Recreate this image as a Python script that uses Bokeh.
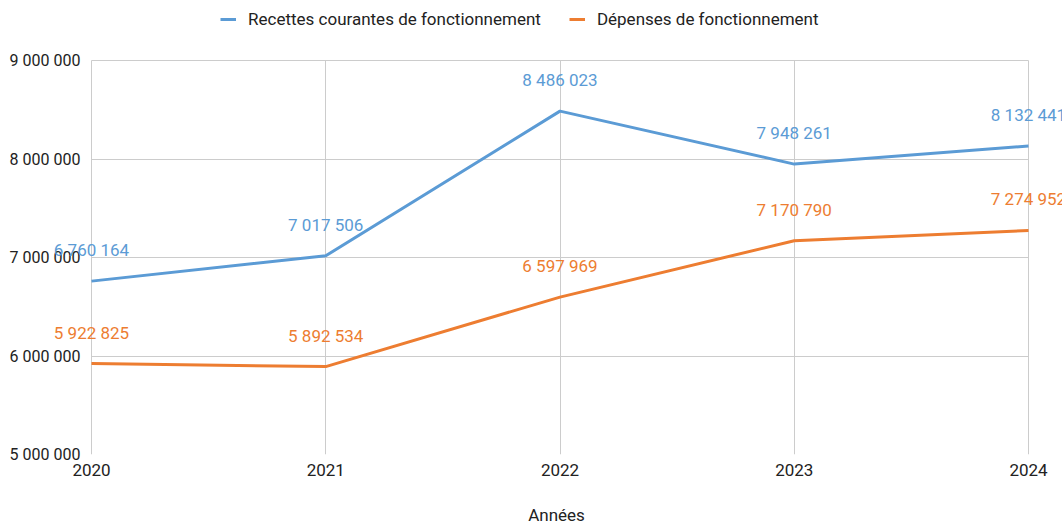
from bokeh.plotting import figure
from bokeh.models import ColumnDataSource, LabelSet, FixedTicker, Legend, LegendItem, Range1d
from bokeh.core.properties import value
from bokeh.embed import file_html
from bokeh.resources import INLINE

years = [2020, 2021, 2022, 2023, 2024]
recettes = [6760164, 7017506, 8486023, 7948261, 8132441]
depenses = [5922825, 5892534, 6597969, 7170790, 7274952]
series_names = ["Recettes courantes de fonctionnement", "Dépenses de fonctionnement"]
colors = ["#5b9bd5", "#ed7d31"]
y_ticks = [5000000, 6000000, 7000000, 8000000, 9000000]

def fmt(v):
    return f"{v:,}".replace(",", " ")

FONT = "Roboto"

# frame extends beyond the 2020-2024 / 5M-9M box so that data labels and legend are not clipped
px_per_year = (1028 - 91) / 4
px_per_unit_y = (454 - 60) / 4000000
FRAME_LEFT = 50
x0 = years[0] - (91 - FRAME_LEFT) / px_per_year
x1 = years[-1] + (1062 - 1028) / px_per_year
y0 = y_ticks[0]
y1 = y_ticks[-1] + 60 / px_per_unit_y

p = figure(width=1062, height=527, output_backend="svg", toolbar_location=None,
           x_range=Range1d(x0, x1), y_range=Range1d(y0, y1))
p.min_border_left = FRAME_LEFT
p.min_border_right = 0
p.min_border_top = 0
p.min_border_bottom = 73
p.outline_line_color = None

renderers = []
for vals, col in zip([recettes, depenses], colors):
    src = ColumnDataSource(dict(x=years, y=vals, lab=[fmt(v) for v in vals]))
    r = p.line("x", "y", source=src, line_color=col, line_width=3)
    renderers.append(r)
    p.add_layout(LabelSet(x="x", y="y", text="lab", source=src, text_color=col,
                          text_font=value(FONT), text_font_size="17px", text_align="center",
                          text_baseline="middle", y_offset=31))

legend = Legend(items=[LegendItem(label=n, renderers=[r]) for n, r in zip(series_names, renderers)],
                orientation="horizontal", location=(170, 425), label_text_font=FONT,
                label_text_font_size="17px", label_text_color="#222222",
                border_line_color=None, background_fill_alpha=0, glyph_width=16,
                glyph_height=10, spacing=28, padding=4, margin=0, label_standoff=12)
p.add_layout(legend, "center")

p.xaxis.ticker = FixedTicker(ticks=years)
p.yaxis.ticker = FixedTicker(ticks=y_ticks)
p.xaxis.bounds = (years[0], years[-1])
p.yaxis.bounds = (y_ticks[0], y_ticks[-1])
p.yaxis.major_label_overrides = {t: fmt(t) for t in y_ticks}
p.xaxis.major_label_overrides = {y: str(y) for y in years}
for ax in (p.xaxis, p.yaxis):
    ax.axis_line_color = None
    ax.major_tick_line_color = None
    ax.minor_tick_line_color = None
    ax.major_label_text_font = FONT
    ax.major_label_text_color = "#222222"
p.xaxis.major_label_text_font_size = "17px"
p.yaxis.major_label_text_font_size = "16px"
p.yaxis.major_label_standoff = FRAME_LEFT - 86
p.xaxis.major_label_standoff = 3
p.xaxis.axis_label = "Années"
p.xaxis.axis_label_text_font = FONT
p.xaxis.axis_label_text_font_size = "17px"
p.xaxis.axis_label_text_font_style = "normal"
p.xaxis.axis_label_text_color = "#222222"
p.xaxis.axis_label_standoff = 26

p.xgrid.ticker = FixedTicker(ticks=years)
p.ygrid.ticker = FixedTicker(ticks=y_ticks)
p.xgrid.cross_bounds = (y_ticks[0], y_ticks[-1])
p.ygrid.cross_bounds = (years[0], years[-1])
p.xgrid.grid_line_color = "#cccccc"
p.ygrid.grid_line_color = "#cccccc"
p.xgrid.grid_line_width = 1
p.ygrid.grid_line_width = 1

open("out.html", "w").write(file_html(p, INLINE))
